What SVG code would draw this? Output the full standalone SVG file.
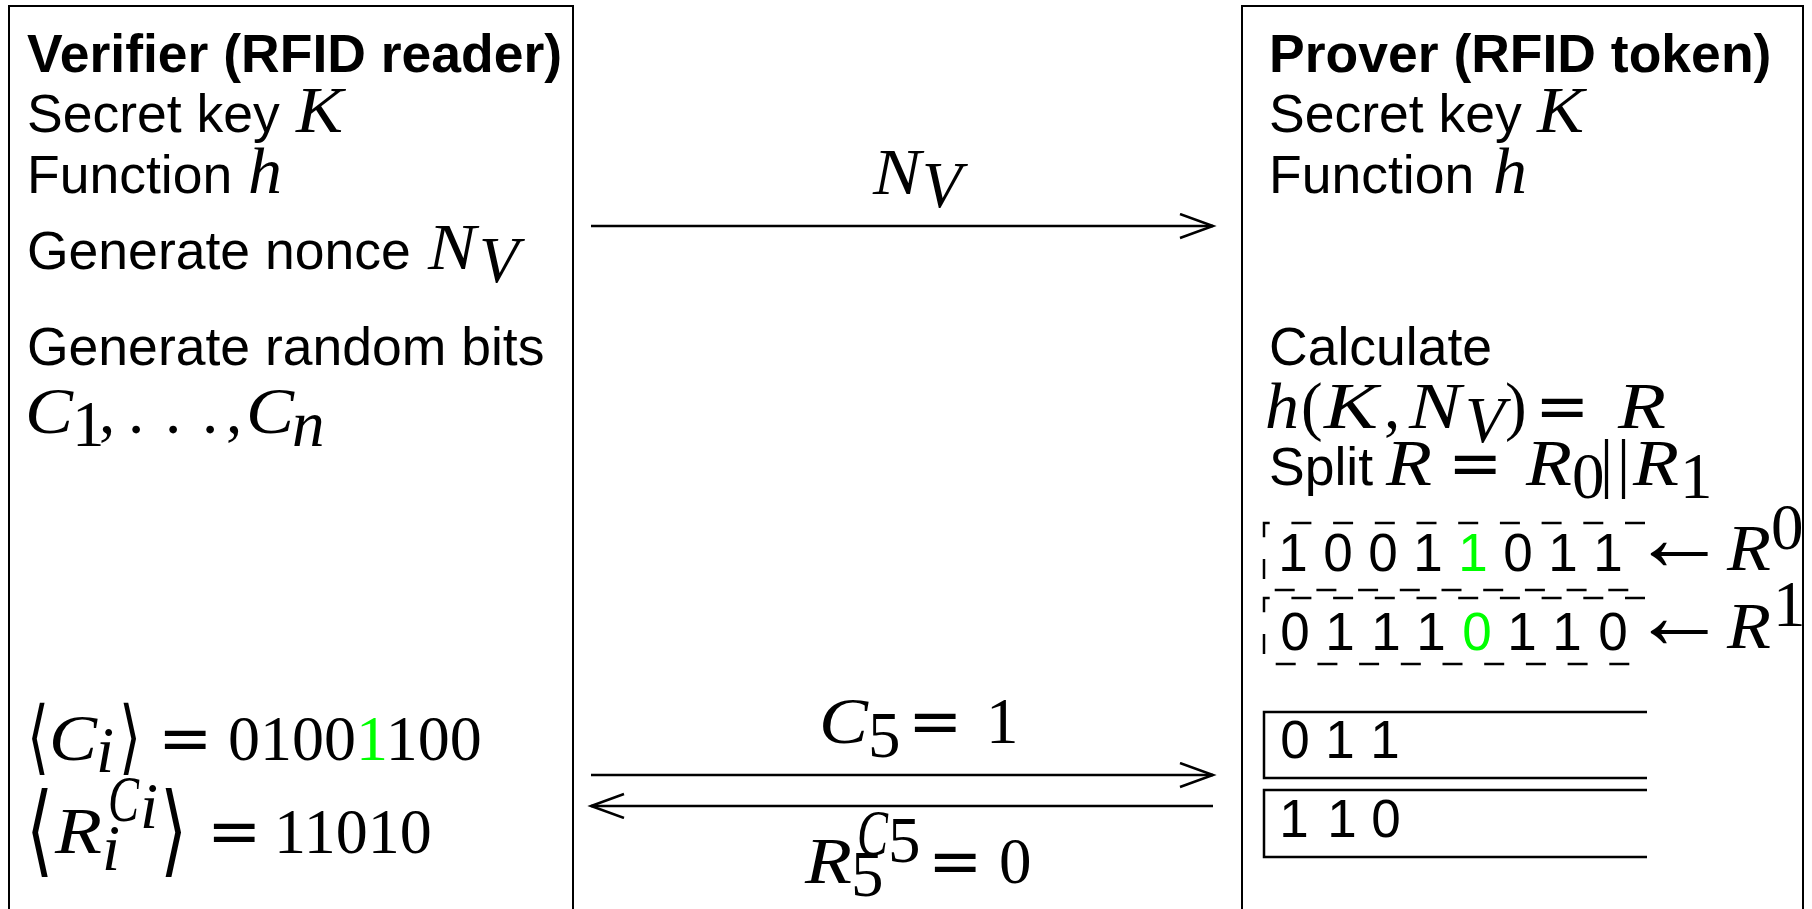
<svg xmlns="http://www.w3.org/2000/svg" width="1812" height="909" viewBox="0 0 1812 909">
<style>
.sans{font-family:"Liberation Sans",Arial,sans-serif;font-size:53.5px;fill:#000}
.b{font-weight:bold}
.mi{font-family:"Liberation Serif","Times New Roman",serif;font-style:italic;font-size:65px;fill:#000}
.mr{font-family:"Liberation Serif","Times New Roman",serif;font-size:65px;fill:#000}
.eq{font-family:"DejaVu Serif",serif;font-size:65px;fill:#000}
.br{font-family:"DejaVu Serif",serif;fill:#000}
.arr{font-family:"Liberation Serif","Times New Roman",serif;font-size:96px;fill:#000}
.dg{font-family:"Liberation Serif","Times New Roman",serif;font-size:64px;fill:#000}
.bit{font-family:"Liberation Sans",Arial,sans-serif;font-size:53px;text-anchor:middle;fill:#000}
.g{fill:#00ff00}
.frame{fill:none;stroke:#000;stroke-width:2}
.cell{fill:none;stroke:#000;stroke-width:2.5}
.dash{fill:none;stroke:#000;stroke-width:2.5;stroke-dasharray:20 21.7;stroke-dashoffset:39.7}
.conn{stroke:#000;stroke-width:2.5;fill:none}
</style>
<defs>
<marker id="ah" markerUnits="userSpaceOnUse" markerWidth="40" markerHeight="30" refX="34" refY="13" orient="auto">
<path d="M1,1 L34,13 L1,25" fill="none" stroke="#000" stroke-width="2.5"/>
</marker>
</defs>
<rect width="1812" height="909" fill="#fff"/>

<g id="verifier">
<path class="frame" d="M9,915 V6 H573 V915"/>
<text class="sans b" x="27" y="72">Verifier (RFID reader)</text>
<text class="sans" x="27" y="132">Secret key</text>
<text class="mi" x="296" y="132" textLength="47" lengthAdjust="spacingAndGlyphs">K</text>
<text class="sans" x="27" y="193">Function</text>
<text class="mi" x="248" y="193" textLength="34" lengthAdjust="spacingAndGlyphs">h</text>
<text class="sans" x="27" y="269">Generate nonce</text>
<text class="mi" x="428" y="269" textLength="48" lengthAdjust="spacingAndGlyphs">N</text>
<text class="mi" x="479" y="282" font-size="44">V</text>
<text class="sans" x="27" y="365">Generate random bits</text>
<text class="mi" x="25" y="433" textLength="48" lengthAdjust="spacingAndGlyphs">C</text>
<text class="mr" x="72" y="446" font-size="42">1</text>
<text class="mr" x="99" y="433">,</text>
<text class="mr" x="128" y="433">.</text>
<text class="mr" x="165" y="433">.</text>
<text class="mr" x="202" y="433">.</text>
<text class="mr" x="226" y="433">,</text>
<text class="mi" x="246" y="433" textLength="48" lengthAdjust="spacingAndGlyphs">C</text>
<text class="mi" x="292" y="446" font-size="42">n</text>
<text class="br" font-size="81" transform="translate(27,764) scale(0.7,1)">⟨</text>
<text class="mi" x="49" y="760" textLength="48" lengthAdjust="spacingAndGlyphs">C</text>
<text class="mi" x="96" y="772" font-size="42">i</text>
<text class="br" font-size="81" transform="translate(119,764) scale(0.7,1)">⟩</text>
<text class="eq" x="158" y="760">=</text>
<text class="dg" x="228" y="760">0100<tspan class="g">1</tspan>100</text>
<text class="br" font-size="100" transform="translate(26,864) scale(0.7,1)">⟨</text>
<text class="mi" x="55" y="853" textLength="47" lengthAdjust="spacingAndGlyphs">R</text>
<text class="mi" x="102" y="870" font-size="42">i</text>
<text class="mi" x="108" y="821" font-size="40" textLength="31" lengthAdjust="spacingAndGlyphs">C</text>
<text class="mi" x="140" y="828" font-size="30">i</text>
<text class="br" font-size="100" transform="translate(160,864) scale(0.7,1)">⟩</text>
<text class="eq" x="207" y="853">=</text>
<text class="dg" x="274" y="853">11010</text>
</g>

<g id="prover">
<path class="frame" d="M1242,915 V6 H1803 V915"/>
<text class="sans b" x="1269" y="72">Prover (RFID token)</text>
<text class="sans" x="1269" y="132">Secret key</text>
<text class="mi" x="1537" y="132" textLength="47" lengthAdjust="spacingAndGlyphs">K</text>
<text class="sans" x="1269" y="193">Function</text>
<text class="mi" x="1493" y="193" textLength="34" lengthAdjust="spacingAndGlyphs">h</text>
<text class="sans" x="1269" y="365">Calculate</text>
<text class="mi" x="1265" y="428" textLength="34" lengthAdjust="spacingAndGlyphs">h</text>
<text class="mr" x="1301" y="428">(</text>
<text class="mi" x="1324" y="428" textLength="54" lengthAdjust="spacingAndGlyphs">K</text>
<text class="mr" x="1384" y="428">,</text>
<text class="mi" x="1409" y="428" textLength="52" lengthAdjust="spacingAndGlyphs">N</text>
<text class="mi" x="1465" y="442" font-size="44">V</text>
<text class="mr" x="1505" y="428">)</text>
<text class="eq" x="1535" y="428">=</text>
<text class="mi" x="1618" y="428" textLength="48" lengthAdjust="spacingAndGlyphs">R</text>
<text class="sans" x="1269" y="485">Split</text>
<text class="mi" x="1386" y="485" textLength="46" lengthAdjust="spacingAndGlyphs">R</text>
<text class="eq" x="1448" y="485">=</text>
<text class="mi" x="1526" y="485" textLength="46" lengthAdjust="spacingAndGlyphs">R</text>
<text class="mr" x="1572" y="498" font-size="44">0</text>
<text class="mr" x="1600" y="485">|</text>
<text class="mr" x="1617" y="485">|</text>
<text class="mi" x="1633" y="485" textLength="46" lengthAdjust="spacingAndGlyphs">R</text>
<text class="mr" x="1680" y="498" font-size="44">1</text>
</g>

<g id="r0-row">
<path class="dash" d="M1647,523 H1264 V590 H1647"/>
<text class="bit"><tspan x="1293" y="571">1</tspan><tspan x="1338" y="571">0</tspan><tspan x="1383" y="571">0</tspan><tspan x="1428" y="571">1</tspan><tspan class="g" x="1473" y="571">1</tspan><tspan x="1518" y="571">0</tspan><tspan x="1563" y="571">1</tspan><tspan x="1608" y="571">1</tspan></text>
<text class="arr" x="1631" y="570">←</text>
<text class="mi" x="1727" y="570" textLength="44" lengthAdjust="spacingAndGlyphs">R</text>
<text class="mr" x="1771" y="549" font-size="36">0</text>
</g>

<g id="r1-row">
<path class="dash" d="M1647,598 H1264 V664 H1647"/>
<text class="bit"><tspan x="1295" y="650">0</tspan><tspan x="1340" y="650">1</tspan><tspan x="1386" y="650">1</tspan><tspan x="1431" y="650">1</tspan><tspan class="g" x="1477" y="650">0</tspan><tspan x="1522" y="650">1</tspan><tspan x="1567" y="650">1</tspan><tspan x="1613" y="650">0</tspan></text>
<text class="arr" x="1631" y="648">←</text>
<text class="mi" x="1727" y="648" textLength="44" lengthAdjust="spacingAndGlyphs">R</text>
<text class="mr" x="1773" y="626" font-size="36">1</text>
</g>

<g id="cell-0">
<path class="cell" d="M1647,712 H1264 V778 H1647"/>
<text class="bit"><tspan x="1295" y="758">0</tspan><tspan x="1340" y="758">1</tspan><tspan x="1385" y="758">1</tspan></text>
</g>

<g id="cell-1">
<path class="cell" d="M1647,790 H1264 V857 H1647"/>
<text class="bit"><tspan x="1294" y="837">1</tspan><tspan x="1342" y="837">1</tspan><tspan x="1386" y="837">0</tspan></text>
</g>

<g id="connectors">
<line class="conn" x1="591" y1="226" x2="1213" y2="226" marker-end="url(#ah)"/>
<line class="conn" x1="591" y1="775" x2="1213" y2="775" marker-end="url(#ah)"/>
<line class="conn" x1="1213" y1="806" x2="591" y2="806" marker-end="url(#ah)"/>
<text class="mi" x="873" y="194" textLength="48" lengthAdjust="spacingAndGlyphs">N</text>
<text class="mi" x="922" y="207" font-size="44">V</text>
<text class="mi" x="819" y="743" textLength="49" lengthAdjust="spacingAndGlyphs">C</text>
<text class="mr" x="868" y="757" font-size="42">5</text>
<text class="eq" x="908" y="743">=</text>
<text class="mr" x="986" y="743">1</text>
<text class="mi" x="805" y="883" textLength="47" lengthAdjust="spacingAndGlyphs">R</text>
<text class="mr" x="851" y="896" font-size="38">5</text>
<text class="mi" x="857" y="855" font-size="40" textLength="31" lengthAdjust="spacingAndGlyphs">C</text>
<text class="mr" x="888" y="862" font-size="28">5</text>
<text class="eq" x="928" y="883">=</text>
<text class="mr" x="999" y="883">0</text>
</g>
</svg>
